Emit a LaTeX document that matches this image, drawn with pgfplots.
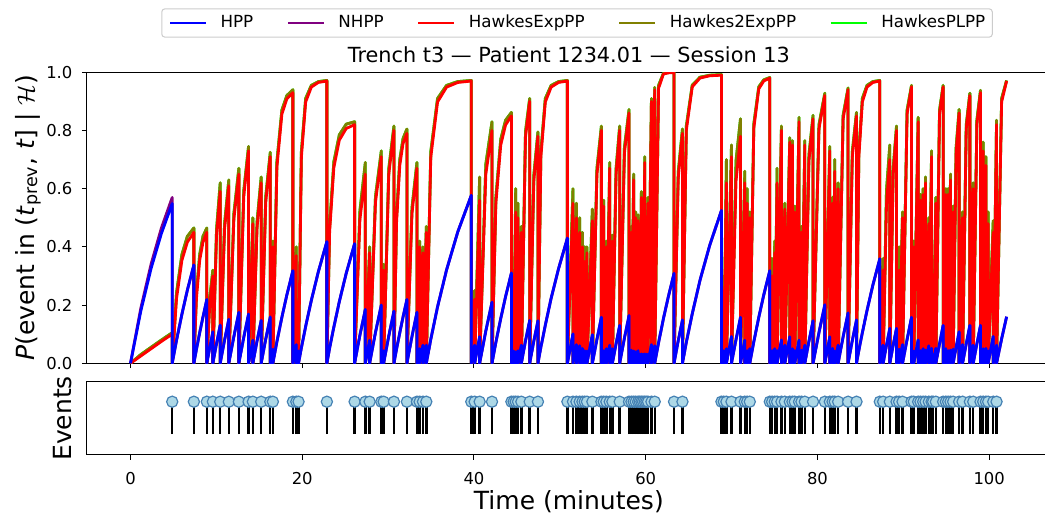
\documentclass[border=0pt]{standalone}
\usepackage{fontspec}
\setmainfont{DejaVu Sans}
\usepackage{pgfplots}
\usepackage{pgfplotstable}
\pgfplotsset{compat=1.18}
\definecolor{mplpurple}{HTML}{800080}
\definecolor{mplolive}{HTML}{808000}
\definecolor{mpllime}{HTML}{00FF00}
\definecolor{lightblue}{HTML}{ADD8E6}
\definecolor{steelblue}{HTML}{4682B4}

% columns: t = time (min), b = HPP, n = NHPP, r = HawkesExpPP, o = Hawkes2ExpPP / HawkesPLPP
\pgfplotstableread{
t b n r o
0 0 0 0 0
1.20 0.179 0.189 0.025 0.030
2.40 0.326 0.341 0.050 0.055
3.60 0.446 0.465 0.075 0.080
4.86 0.549 0.570 0.100 0.105
4.86 0 0 0 0
5.36 0.079 0.079 0.222 0.242
5.99 0.169 0.169 0.354 0.374
6.62 0.251 0.251 0.416 0.436
7.38 0.338 0.338 0.450 0.465
7.38 0 0 0 0
7.68 0.048 0.048 0.222 0.242
8.06 0.105 0.105 0.354 0.374
8.44 0.159 0.159 0.416 0.436
8.89 0.219 0.219 0.450 0.465
8.89 0 0 0 0
9.24 0.055 0.055 0.207 0.227
9.59 0.108 0.108 0.300 0.320
9.59 0 0 0 0
10.02 0.068 0.068 0.440 0.460
10.45 0.131 0.131 0.590 0.620
10.45 0 0 0 0
10.95 0.079 0.079 0.458 0.478
11.45 0.151 0.151 0.610 0.630
11.45 0 0 0 0
12.04 0.092 0.092 0.495 0.515
12.62 0.175 0.175 0.650 0.670
12.62 0 0 0 0
13.19 0.089 0.089 0.573 0.593
13.75 0.169 0.169 0.730 0.745
13.75 0 0 0 0
14.25 0.079 0.079 0.480 0.500
14.25 0 0 0 0
14.74 0.077 0.077 0.467 0.487
15.22 0.147 0.147 0.620 0.640
15.22 0 0 0 0
15.75 0.083 0.083 0.553 0.573
16.28 0.159 0.159 0.710 0.725
16.28 0 0 0 0
16.58 0.048 0.048 0.400 0.420
16.58 0 0 0 0
17.05 0.074 0.074 0.673 0.693
17.63 0.158 0.158 0.856 0.870
18.21 0.235 0.235 0.909 0.920
18.91 0.318 0.318 0.930 0.940
18.91 0 0 0 0
19.31 0.064 0.064 0.370 0.400
19.31 0 0 0 0
19.57 0.042 0.042 0.200 0.220
19.57 0 0 0 0
19.90 0.053 0.053 0.707 0.727
20.40 0.127 0.127 0.898 0.910
21.06 0.216 0.216 0.949 0.955
21.88 0.315 0.315 0.965 0.968
22.87 0.418 0.418 0.970 0.972
22.87 0 0 0 0
23.19 0.052 0.052 0.451 0.471
23.68 0.124 0.124 0.672 0.692
24.32 0.212 0.212 0.767 0.785
25.13 0.310 0.310 0.807 0.822
26.10 0.411 0.411 0.820 0.830
26.10 0 0 0 0
26.72 0.097 0.097 0.495 0.525
27.35 0.185 0.185 0.650 0.690
27.35 0 0 0 0
27.85 0.079 0.079 0.380 0.400
27.85 0 0 0 0
28.53 0.106 0.106 0.553 0.573
29.21 0.200 0.200 0.710 0.730
29.21 0 0 0 0
29.48 0.043 0.043 0.320 0.340
29.48 0 0 0 0
30.08 0.094 0.094 0.649 0.669
30.68 0.179 0.179 0.800 0.815
30.68 0 0 0 0
30.98 0.048 0.048 0.481 0.501
31.36 0.105 0.105 0.680 0.700
31.74 0.159 0.159 0.755 0.772
32.19 0.219 0.219 0.790 0.805
32.19 0 0 0 0
32.78 0.092 0.092 0.514 0.534
33.36 0.175 0.175 0.670 0.690
33.36 0 0 0 0
33.67 0.050 0.050 0.400 0.420
33.67 0 0 0 0
34.06 0.062 0.062 0.380 0.400
34.06 0 0 0 0
34.45 0.062 0.062 0.450 0.470
34.45 0 0 0 0
34.97 0.082 0.082 0.707 0.727
35.76 0.194 0.194 0.898 0.910
36.81 0.321 0.321 0.949 0.955
38.12 0.452 0.452 0.965 0.968
39.69 0.577 0.577 0.970 0.972
39.69 0 0 0 0
40.08 0.062 0.062 0.220 0.250
40.08 0 0 0 0
40.66 0.091 0.091 0.560 0.640
40.66 0 0 0 0
41.38 0.111 0.111 0.649 0.684
42.10 0.210 0.210 0.800 0.830
42.10 0 0 0 0
42.55 0.072 0.072 0.549 0.569
43.12 0.154 0.154 0.750 0.770
43.68 0.229 0.229 0.819 0.835
44.36 0.310 0.310 0.850 0.862
44.36 0 0 0 0
44.62 0.042 0.042 0.300 0.320
44.62 0 0 0 0
44.86 0.039 0.039 0.520 0.600
44.86 0 0 0 0
45.13 0.043 0.043 0.500 0.550
45.13 0 0 0 0
45.52 0.062 0.062 0.450 0.470
45.52 0 0 0 0
46.00 0.077 0.077 0.776 0.796
46.49 0.147 0.147 0.900 0.910
46.49 0 0 0 0
46.97 0.076 0.076 0.626 0.646
47.45 0.146 0.146 0.780 0.795
47.45 0 0 0 0
47.79 0.055 0.055 0.707 0.727
48.31 0.131 0.131 0.898 0.910
48.99 0.224 0.224 0.949 0.955
49.85 0.325 0.325 0.965 0.968
50.88 0.430 0.430 0.970 0.972
50.88 0 0 0 0
51.53 0.101 0.101 0.550 0.600
51.53 0 0 0 0
51.93 0.064 0.064 0.500 0.550
51.93 0 0 0 0
52.31 0.060 0.060 0.450 0.500
52.31 0 0 0 0
52.63 0.051 0.051 0.400 0.450
52.63 0 0 0 0
52.90 0.043 0.043 0.350 0.400
52.90 0 0 0 0
53.16 0.042 0.042 0.380 0.400
53.16 0 0 0 0
53.79 0.098 0.098 0.490 0.530
53.79 0 0 0 0
54.32 0.082 0.082 0.649 0.669
54.84 0.158 0.158 0.800 0.815
54.84 0 0 0 0
55.11 0.043 0.043 0.540 0.560
55.11 0 0 0 0
55.42 0.050 0.050 0.400 0.420
55.42 0 0 0 0
55.81 0.062 0.062 0.670 0.690
55.81 0 0 0 0
56.12 0.050 0.050 0.420 0.440
56.12 0 0 0 0
56.55 0.067 0.067 0.649 0.669
56.97 0.130 0.130 0.800 0.815
56.97 0 0 0 0
57.52 0.086 0.086 0.721 0.741
58.06 0.164 0.164 0.860 0.872
58.06 0 0 0 0
58.34 0.045 0.045 0.450 0.470
58.34 0 0 0 0
58.60 0.042 0.042 0.630 0.650
58.60 0 0 0 0
58.84 0.039 0.039 0.500 0.520
58.84 0 0 0 0
59.11 0.043 0.043 0.490 0.510
59.11 0 0 0 0
59.30 0.031 0.031 0.350 0.370
59.30 0 0 0 0
59.50 0.032 0.032 0.570 0.590
59.50 0 0 0 0
59.69 0.031 0.031 0.450 0.470
59.69 0 0 0 0
59.89 0.032 0.032 0.690 0.710
59.89 0 0 0 0
60.08 0.031 0.031 0.500 0.520
60.08 0 0 0 0
60.27 0.031 0.031 0.550 0.570
60.27 0 0 0 0
60.67 0.064 0.064 0.900 0.910
60.67 0 0 0 0
61.05 0.060 0.060 0.940 0.948
61.05 0 0 0 0
61.50 0.071 0.071 0.945 0.955
62.06 0.153 0.153 0.994 0.996
62.63 0.228 0.228 0.998 0.999
63.30 0.309 0.309 0.999 0.999
63.30 0 0 0 0
63.79 0.078 0.078 0.637 0.657
64.28 0.149 0.149 0.790 0.805
64.28 0 0 0 0
64.73 0.072 0.072 0.800 0.815
65.42 0.170 0.170 0.950 0.956
66.32 0.285 0.285 0.980 0.983
67.46 0.406 0.406 0.988 0.990
68.82 0.525 0.525 0.990 0.992
68.82 0 0 0 0
69.09 0.043 0.043 0.250 0.300
69.09 0 0 0 0
69.40 0.050 0.050 0.620 0.700
69.40 0 0 0 0
69.99 0.092 0.092 0.710 0.750
69.99 0 0 0 0
70.52 0.082 0.082 0.626 0.696
71.04 0.158 0.158 0.780 0.840
71.04 0 0 0 0
71.54 0.079 0.079 0.620 0.660
71.54 0 0 0 0
71.81 0.043 0.043 0.550 0.600
71.81 0 0 0 0
72.12 0.050 0.050 0.500 0.520
72.12 0 0 0 0
72.59 0.074 0.074 0.807 0.822
73.17 0.158 0.158 0.943 0.950
73.75 0.235 0.235 0.970 0.974
74.45 0.318 0.318 0.980 0.982
74.45 0 0 0 0
74.72 0.043 0.043 0.300 0.360
74.72 0 0 0 0
75.03 0.050 0.050 0.380 0.420
75.03 0 0 0 0
75.30 0.043 0.043 0.620 0.670
75.30 0 0 0 0
75.81 0.080 0.080 0.800 0.815
75.81 0 0 0 0
76.20 0.062 0.062 0.530 0.550
76.20 0 0 0 0
76.78 0.091 0.091 0.760 0.775
76.78 0 0 0 0
77.09 0.050 0.050 0.750 0.765
77.09 0 0 0 0
77.36 0.043 0.043 0.520 0.540
77.36 0 0 0 0
77.86 0.079 0.079 0.830 0.845
77.86 0 0 0 0
78.14 0.045 0.045 0.450 0.470
78.14 0 0 0 0
78.53 0.062 0.062 0.750 0.765
78.53 0 0 0 0
79.01 0.076 0.076 0.696 0.716
79.49 0.146 0.146 0.840 0.852
79.49 0 0 0 0
80.18 0.106 0.106 0.806 0.820
80.86 0.201 0.201 0.920 0.928
80.86 0 0 0 0
81.44 0.091 0.091 0.730 0.745
81.44 0 0 0 0
81.76 0.051 0.051 0.550 0.570
81.76 0 0 0 0
82.02 0.042 0.042 0.660 0.700
82.02 0 0 0 0
82.41 0.062 0.062 0.600 0.620
82.41 0 0 0 0
82.99 0.091 0.091 0.839 0.852
83.57 0.173 0.173 0.940 0.946
83.57 0 0 0 0
84.06 0.078 0.078 0.709 0.727
84.55 0.149 0.149 0.850 0.862
84.55 0 0 0 0
84.82 0.044 0.044 0.707 0.727
85.23 0.105 0.105 0.898 0.910
85.77 0.181 0.181 0.949 0.955
86.45 0.268 0.268 0.965 0.968
87.26 0.359 0.359 0.970 0.972
87.26 0 0 0 0
87.65 0.062 0.062 0.320 0.360
87.65 0 0 0 0
88.04 0.062 0.062 0.543 0.594
88.43 0.120 0.120 0.700 0.750
88.43 0 0 0 0
88.82 0.062 0.062 0.649 0.669
89.21 0.120 0.120 0.800 0.815
89.21 0 0 0 0
89.51 0.048 0.048 0.320 0.400
89.51 0 0 0 0
89.91 0.064 0.064 0.500 0.520
89.91 0 0 0 0
90.44 0.082 0.082 0.857 0.870
90.96 0.158 0.158 0.950 0.955
90.96 0 0 0 0
91.22 0.042 0.042 0.400 0.420
91.22 0 0 0 0
91.73 0.080 0.080 0.830 0.845
91.73 0 0 0 0
92.00 0.043 0.043 0.560 0.580
92.00 0 0 0 0
92.31 0.050 0.050 0.580 0.600
92.31 0 0 0 0
92.59 0.045 0.045 0.620 0.640
92.59 0 0 0 0
92.97 0.060 0.060 0.480 0.500
92.97 0 0 0 0
93.29 0.051 0.051 0.710 0.730
93.29 0 0 0 0
93.47 0.029 0.029 0.300 0.320
93.47 0 0 0 0
93.79 0.051 0.051 0.550 0.570
93.79 0 0 0 0
94.22 0.067 0.067 0.857 0.870
94.64 0.130 0.130 0.950 0.955
94.64 0 0 0 0
94.95 0.050 0.050 0.580 0.600
94.95 0 0 0 0
95.22 0.043 0.043 0.580 0.600
95.22 0 0 0 0
95.50 0.045 0.045 0.630 0.650
95.50 0 0 0 0
95.80 0.048 0.048 0.520 0.540
95.80 0 0 0 0
96.15 0.055 0.055 0.721 0.741
96.50 0.108 0.108 0.860 0.872
96.50 0 0 0 0
96.90 0.064 0.064 0.500 0.520
96.90 0 0 0 0
97.33 0.067 0.067 0.806 0.820
97.75 0.130 0.130 0.920 0.928
97.75 0 0 0 0
98.14 0.062 0.062 0.600 0.620
98.14 0 0 0 0
98.57 0.067 0.067 0.822 0.836
98.99 0.130 0.130 0.930 0.938
98.99 0 0 0 0
99.30 0.050 0.050 0.730 0.760
99.30 0 0 0 0
99.62 0.051 0.051 0.680 0.710
99.62 0 0 0 0
99.88 0.042 0.042 0.480 0.520
99.88 0 0 0 0
100.47 0.092 0.092 0.450 0.490
100.47 0 0 0 0
100.86 0.062 0.062 0.820 0.835
100.86 0 0 0 0
101.45 0.084 0.084 0.898 0.910
102.03 0.160 0.160 0.970 0.972
}\curves

\pgfplotstableread{
t y
4.86 1
7.38 1
8.89 1
9.59 1
10.45 1
11.45 1
12.62 1
13.75 1
14.25 1
15.22 1
16.28 1
16.58 1
18.91 1
19.31 1
19.57 1
22.87 1
26.10 1
27.35 1
27.85 1
29.21 1
29.48 1
30.68 1
32.19 1
33.36 1
33.67 1
34.06 1
34.45 1
39.69 1
40.08 1
40.66 1
42.10 1
44.36 1
44.62 1
44.86 1
45.13 1
45.52 1
46.49 1
47.45 1
50.88 1
51.53 1
51.93 1
52.31 1
52.63 1
52.90 1
53.16 1
53.79 1
54.84 1
55.11 1
55.42 1
55.81 1
56.12 1
56.97 1
58.06 1
58.34 1
58.60 1
58.84 1
59.11 1
59.30 1
59.50 1
59.69 1
59.89 1
60.08 1
60.27 1
60.67 1
61.05 1
63.30 1
64.28 1
68.82 1
69.09 1
69.40 1
69.99 1
71.04 1
71.54 1
71.81 1
72.12 1
74.45 1
74.72 1
75.03 1
75.30 1
75.81 1
76.20 1
76.78 1
77.09 1
77.36 1
77.86 1
78.14 1
78.53 1
79.49 1
80.86 1
81.44 1
81.76 1
82.02 1
82.41 1
83.57 1
84.55 1
87.26 1
87.65 1
88.43 1
89.21 1
89.51 1
89.91 1
90.96 1
91.22 1
91.73 1
92.00 1
92.31 1
92.59 1
92.97 1
93.29 1
93.47 1
93.79 1
94.64 1
94.95 1
95.22 1
95.50 1
95.80 1
96.50 1
96.90 1
97.75 1
98.14 1
98.99 1
99.30 1
99.62 1
99.88 1
100.47 1
100.86 1
}\events

\pgfplotsset{
  mybase/.style={
    scale only axis,
    width=482.15pt,
    xmin=-5.1, xmax=107.2,
    tick align=outside,
    major tick length=2.45pt,
    tick style={black, line width=0.5pt},
    axis line style={black, line width=0.5pt},
    xtick={0,20,40,60,80,100},
    xtick pos=left, ytick pos=left,
    /pgf/number format/assume math mode=true,
    tick label style={font=\fontsize{8.2}{9.8}\selectfont},
    label style={font=\fontsize{12.5}{15}\selectfont},
  }
}

\begin{document}
\begin{tikzpicture}
\begin{axis}[
  mybase,
  at={(43.35pt,76.85pt)}, anchor=south west,
  height=145.5pt,
  ymin=0, ymax=1,
  xticklabels={},
  ytick={0,0.2,0.4,0.6,0.8,1.0},
  yticklabels={0.0,0.2,0.4,0.6,0.8,1.0},
  yticklabel style={anchor=east, inner sep=0pt, xshift=-4.5pt},
  ylabel={\textit{P}(event in (\textit{t}\textsubscript{prev}, \textit{t}] | $\mathcal{H}$)},
  ylabel style={at={(axis description cs:-0.0606,0.5)}, anchor=center},
  every axis title shift=0pt,
  title={Trench t3 — Patient 1234.01 — Session 13},
  title style={at={(axis description cs:0.5,1)}, anchor=base, yshift=4.8pt, font=\fontsize{10.4}{12.5}\selectfont},
  legend columns=5,
  legend image code/.code={\draw[#1] (0pt,0pt) -- (18pt,0pt);},
  legend style={at={(axis description cs:0.5085,1.1694)}, anchor=center,
    draw=black!20, fill=white, rounded corners=1.5pt, line width=0.5pt,
    font=\fontsize{8.35}{10}\selectfont,
    inner xsep=3.5pt, inner ysep=3pt,
    nodes={inner sep=0pt, text height=6.3pt, text depth=1.8pt},
    /tikz/every odd column/.append style={column sep=6.7pt},
    /tikz/every even column/.append style={column sep=16.7pt}},
]
\addplot[mpllime, line width=1.4pt, line join=round, forget plot] table[x=t, y=o]{\curves};
\addplot[mplolive, line width=1.4pt, line join=round, forget plot] table[x=t, y=o]{\curves};
\addplot[red, line width=1.4pt, line join=round, forget plot] table[x=t, y=r]{\curves};
\addplot[mplpurple, line width=1.4pt, line join=round, forget plot] table[x=t, y=n]{\curves};
\addplot[blue, line width=1.4pt, line join=round, forget plot] table[x=t, y=b]{\curves};
\addlegendimage{blue, line width=1.2pt}
\addlegendentry{HPP}
\addlegendimage{mplpurple, line width=1.2pt}
\addlegendentry{NHPP}
\addlegendimage{red, line width=1.2pt}
\addlegendentry{HawkesExpPP}
\addlegendimage{mplolive, line width=1.2pt}
\addlegendentry{Hawkes2ExpPP}
\addlegendimage{mpllime, line width=1.2pt}
\addlegendentry{HawkesPLPP}
\end{axis}

\begin{axis}[
  mybase,
  at={(43.35pt,31pt)}, anchor=south west,
  height=36.65pt,
  ymin=-0.65, ymax=1.62,
  ytick=\empty,
  xticklabels={0,20,40,60,80,100},
  xticklabel style={anchor=base, yshift=-12.5pt},
  xlabel={Time (minutes)},
  xlabel style={at={(axis description cs:0.5,-0.75)}, anchor=base},
  ylabel={Events},
  ylabel style={at={(axis description cs:-0.0246,0.5)}, anchor=center},
]
\addplot[ycomb, black, line width=1.2pt, mark=*, mark size=2.8pt,
  mark options={fill=lightblue, draw=steelblue, line width=0.6pt}] table[x=t, y=y]{\events};
\end{axis}
\pgfresetboundingbox
\useasboundingbox (0,0) rectangle (522.5pt,258.5pt);
\end{tikzpicture}
\end{document}
